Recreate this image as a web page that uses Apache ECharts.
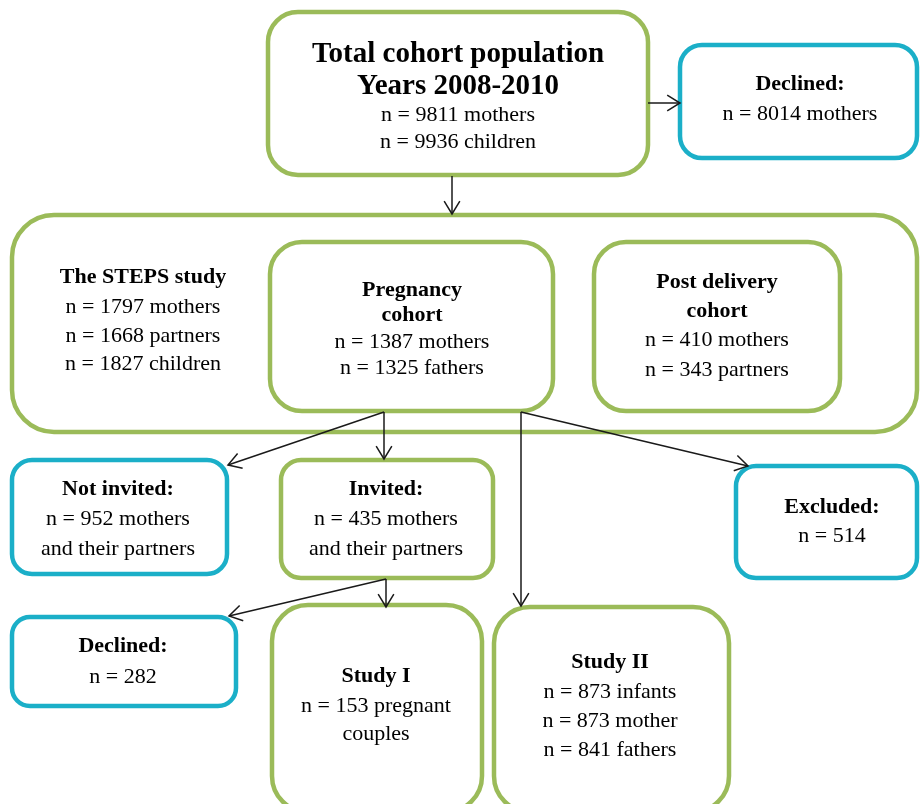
<!DOCTYPE html>
<html><head><meta charset="utf-8">
<script src="https://cdn.jsdelivr.net/npm/echarts@6/dist/echarts.min.js"></script>
<style>html,body{margin:0;padding:0;background:#fff}#c{width:920px;height:804px}</style>
</head><body><div id="c"></div>
<script>
// ---- content (text and counts) ----
const boxTitles = [
  ['Total cohort population', 'Years 2008-2010'],
  ['Declined:'],
  ['The STEPS study'],
  ['Pregnancy', 'cohort'],
  ['Post delivery', 'cohort'],
  ['Not invited:'],
  ['Invited:'],
  ['Excluded:'],
  ['Declined:'],
  ['Study I'],
  ['Study II']
];
const boxCounts = [
  [9811, 9936], [8014], [1797, 1668, 1827], [1387, 1325], [410, 343],
  [952], [435], [514], [282], [153], [873, 873, 841]
];
const boxUnits = [
  ['mothers', 'children'], ['mothers'], ['mothers', 'partners', 'children'],
  ['mothers', 'fathers'], ['mothers', 'partners'], ['mothers'], ['mothers'],
  [''], [''], ['pregnant'], ['infants', 'mother', 'fathers']
];
const boxTrailer = ['', '', '', '', '', 'and their partners', 'and their partners', '', '', 'couples', ''];
const boxKind = ['keep', 'out', 'keep', 'keep', 'keep', 'out', 'keep', 'out', 'out', 'keep', 'keep'];

// ---- layout (separate from content) ----
const boxRect = [
  [268, 12, 648, 175], [680, 45, 917, 158], [12, 215, 917, 432],
  [270, 242, 553, 411], [594, 242, 840, 411], [12, 460, 227, 574],
  [281, 460, 493, 578], [736, 466, 917, 578], [12, 617, 236, 706],
  [272, 605, 482, 812], [494, 607, 729, 812]
];
const boxRadius = [30, 22, 42, 32, 32, 20, 20, 20, 18, 36, 36];
const textX = [458, 800, 143, 412, 717, 118, 386, 832, 123, 376, 610];
const textY = [
  [55, 87, 115, 142], [84, 114], [277, 307, 336, 364], [290, 315, 342, 368],
  [282, 311, 340, 370], [489, 519, 549], [489, 519, 549], [507, 536],
  [646, 677], [676, 706, 734], [662, 692, 721, 750]
];
const arrows = [
  [648, 103, 680, 103], [452, 176, 452, 214],
  [384, 412, 228, 465], [384, 412, 384, 459],
  [521, 412, 748, 466], [521, 412, 521, 606],
  [386, 579, 229, 616], [386, 579, 386, 607]
];
const kindColor = { keep: '#9BBB59', out: '#1BAFC8' };

function boxLinesOf(i) {
  const out = [];
  boxTitles[i].forEach(t => out.push({ t, bold: true, size: i === 0 ? 29 : 22 }));
  boxCounts[i].forEach((c, k) => {
    const u = boxUnits[i][k];
    out.push({ t: 'n = ' + c + (u ? ' ' + u : ''), bold: false, size: 22 });
  });
  if (boxTrailer[i]) out.push({ t: boxTrailer[i], bold: false, size: 22 });
  return out;
}

function renderBox(params, api) {
  const i = api.value(0);
  const r = boxRect[i];
  const p1 = api.coord([r[0], r[1]]), p2 = api.coord([r[2], r[3]]);
  const children = [{
    type: 'rect',
    shape: { x: p1[0], y: p1[1], width: p2[0] - p1[0], height: p2[1] - p1[1], r: boxRadius[i] },
    style: { fill: '#fff', stroke: kindColor[boxKind[i]], lineWidth: 4.5 }
  }];
  boxLinesOf(i).forEach((ln, k) => {
    const p = api.coord([textX[i], textY[i][k]]);
    children.push({
      type: 'text', x: p[0], y: p[1],
      style: {
        text: ln.t, fontFamily: '"Liberation Serif", "Times New Roman", serif',
        fontSize: ln.size, fontWeight: ln.bold ? 'bold' : 'normal',
        fill: '#000', align: 'center', verticalAlign: 'middle'
      }
    });
  });
  return { type: 'group', children };
}

function renderArrow(params, api) {
  const a = arrows[api.value(0)];
  const s = api.coord([a[0], a[1]]), e = api.coord([a[2], a[3]]);
  const ang = Math.atan2(e[1] - s[1], e[0] - s[0]);
  const L = 15, w = 0.55;
  const h1 = [e[0] - L * Math.cos(ang - w), e[1] - L * Math.sin(ang - w)];
  const h2 = [e[0] - L * Math.cos(ang + w), e[1] - L * Math.sin(ang + w)];
  const st = { stroke: '#1a1a1a', lineWidth: 1.5, fill: null };
  return {
    type: 'group', children: [
      { type: 'line', shape: { x1: s[0], y1: s[1], x2: e[0], y2: e[1] }, style: st },
      { type: 'polyline', shape: { points: [h1, e, h2] }, style: st }
    ]
  };
}

const chart = echarts.init(document.getElementById('c'), null, { renderer: 'canvas' });
chart.setOption({
  backgroundColor: '#fff',
  animation: false,
  grid: { left: 0, right: 0, top: 0, bottom: 0 },
  xAxis: { type: 'value', min: 0, max: 920, show: false },
  yAxis: { type: 'value', min: 0, max: 804, inverse: true, show: false },
  series: [
    { type: 'custom', renderItem: renderBox, clip: false, silent: true,
      data: boxTitles.map((_, i) => [i]) },
    { type: 'custom', renderItem: renderArrow, clip: false, silent: true,
      data: arrows.map((_, i) => [i]) }
  ]
});
</script></body></html>
